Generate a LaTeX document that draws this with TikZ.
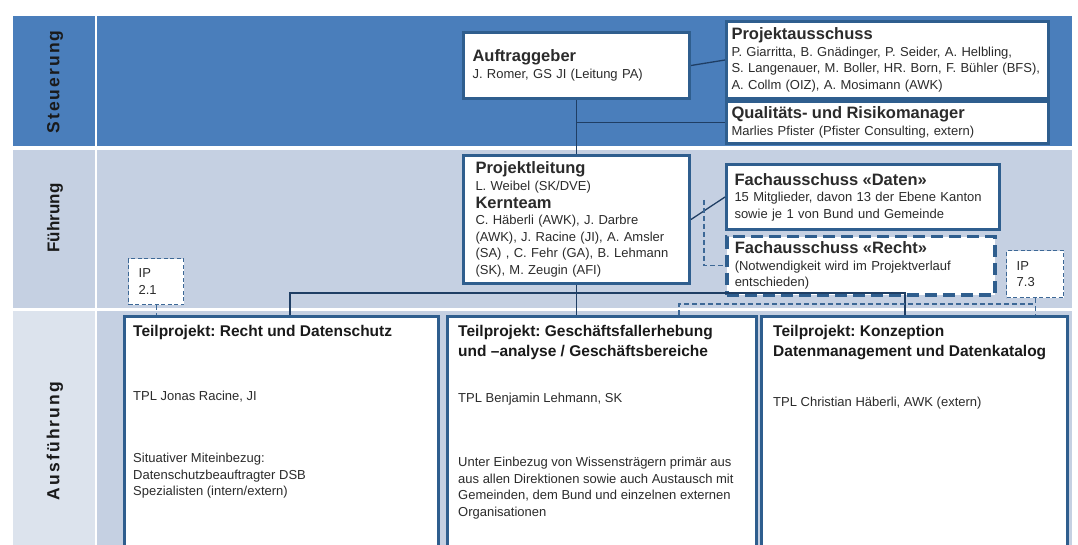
\documentclass[tikz,border=0pt]{standalone}
\usepackage{fontspec}
\setmainfont{Liberation Sans}
\newfontfamily\spacedfont[LetterSpace=12]{Liberation Sans}
\usetikzlibrary{positioning}
\definecolor{steerblue}{HTML}{4A7EBB}
\definecolor{leadgrey}{HTML}{C5D0E2}
\definecolor{execgrey}{HTML}{DCE3ED}
\definecolor{framblue}{HTML}{2F5E8E}
\definecolor{wireblue}{HTML}{1F3E64}
\definecolor{dashblue}{HTML}{3D6896}
\definecolor{inkdark}{HTML}{1A1A1A}
\definecolor{inkbody}{HTML}{2B2B2B}
\newcommand{\hdfont}{\fontsize{16.5}{19}\selectfont\bfseries}
\newcommand{\tpfont}{\fontsize{15.5}{20}\selectfont\bfseries}
\newcommand{\txfont}{\fontsize{13}{16.5}\selectfont}
\frenchspacing
\tikzset{
  org/.style     = {draw=framblue, line width=3pt, fill=white, anchor=north west,
                    align=left, inner xsep=9pt, inner ysep=0pt, font=\txfont,
                    text=inkbody},
  orgopt/.style  = {org, line width=3.5pt, dash pattern=on 12pt off 6pt},
  ipbox/.style   = {draw=dashblue, line width=1.3pt, dash pattern=on 4pt off 2.5pt,
                    fill=white, anchor=north west, align=left, inner xsep=10pt,
                    inner ysep=0pt, font=\txfont, text=inkbody},
  tpframe/.style = {draw=framblue, line width=3pt, fill=white, anchor=north west,
                    inner sep=0pt},
  tptext/.style  = {anchor=north west, align=left, inner sep=0pt, font=\txfont,
                    text=inkbody},
  tphead/.style  = {tptext, font=\tpfont, text=inkdark},
  lane/.style    = {rotate=90, font=\fontsize{17}{20}\selectfont\bfseries,
                    text=inkdark},
  lanewide/.style= {lane, font=\fontsize{17.5}{20}\selectfont\spacedfont\bfseries},
  wire/.style    = {draw=wireblue, line width=1.3pt},
  opt/.style     = {draw=dashblue, line width=1.2pt, dash pattern=on 5pt off 3pt},
}

\begin{document}
\begin{tikzpicture}[x=1pt,y=-1pt]
\clip (0,0) rectangle (1078,545);
\fill[white] (0,0) rectangle (1078,545);

% lanes
\fill[steerblue] (13,16) rectangle (95,146);
\fill[steerblue] (97,16) rectangle (1072,146);
\fill[leadgrey] (13,150) rectangle (95,308);
\fill[leadgrey] (97,150) rectangle (1072,308);
\fill[execgrey] (13,311) rectangle (95,545);
\fill[leadgrey] (97,311) rectangle (1072,545);

\node[lanewide] (steuerung) at (55,82) {Steuerung};
\node[lane] (fuehrung) at (55,218) {Führung};
\node[lanewide] (ausfuehrung) at (55,441) {Ausführung};

\node[org, text width=208pt, minimum height=66pt] (aufg) at (462,31)
     {{\hdfont Auftraggeber}\\J. Romer, GS JI (Leitung PA)};

\node[org, inner xsep=5pt, text width=312pt, minimum height=77pt] (pa) at (725,20)
     {{\hdfont Projektausschuss}\\
      P. Giarritta, B. Gnädinger, P. Seider, A. Helbling,\\
      S. Langenauer, M. Boller, HR. Born, F. Bühler (BFS),\\
      A. Collm (OIZ), A. Mosimann (AWK)};

\node[org, inner xsep=5pt, text width=312pt, minimum height=42pt] (qrm) at (725,100)
     {{\hdfont Qualitäts- und Risikomanager}\\
      Marlies Pfister (Pfister Consulting, extern)};

\node[org, inner xsep=12pt, text width=202pt, minimum height=128pt] (pl) at (462,154)
     {{\hdfont Projektleitung}\\
      L. Weibel (SK/DVE)\\[1.5pt]
      {\hdfont Kernteam}\\
      C. Häberli (AWK), J. Darbre\\
      (AWK), J. Racine (JI), A. Amsler\\
      (SA) , C. Fehr (GA), B. Lehmann\\
      (SK), M. Zeugin (AFI)};

\node[org, inner xsep=8pt, text width=257pt, minimum height=65pt] (fad) at (725,163)
     {{\hdfont Fachausschuss «Daten»}\\
      15 Mitglieder, davon 13 der Ebene Kanton\\
      sowie je 1 von Bund und Gemeinde};

\node[orgopt, inner xsep=8pt, text width=252pt, minimum height=58pt] (far) at (725,235)
     {{\hdfont Fachausschuss «Recht»}\\
      (Notwendigkeit wird im Projektverlauf\\
      entschieden)};

\node[ipbox, text width=35pt, minimum height=46pt] (ip21) at (128,258) {IP\\2.1};
\node[ipbox, text width=37pt, minimum height=47pt] (ip73) at (1006,250) {IP\\7.3};

\node[tpframe, minimum width=314pt, minimum height=260pt] (tp1) at (123,315) {};
\node[tpframe, minimum width=309pt, minimum height=260pt] (tp2) at (446,315) {};
\node[tpframe, minimum width=306pt, minimum height=260pt] (tp3) at (760,315) {};

\node[tphead] (tp1title) at (133,325) {Teilprojekt: Recht und Datenschutz};
\node[tptext] (tp1lead) at (133,391) {TPL Jonas Racine, JI};
\node[tptext] (tp1note) at (133,453)
     {Situativer Miteinbezug:\\Datenschutzbeauftragter DSB\\Spezialisten (intern/extern)};

\node[tphead] (tp2title) at (458,325)
     {Teilprojekt: Geschäftsfallerhebung\\und –analyse / Geschäftsbereiche};
\node[tptext] (tp2lead) at (458,393) {TPL Benjamin Lehmann, SK};
\node[tptext] (tp2note) at (458,457)
     {Unter Einbezug von Wissensträgern primär aus\\
      aus allen Direktionen sowie auch Austausch mit\\
      Gemeinden, dem Bund und einzelnen externen\\
      Organisationen};

\node[tphead] (tp3title) at (773,325)
     {Teilprojekt: Konzeption\\Datenmanagement und Datenkatalog};
\node[tptext] (tp3lead) at (773,397) {TPL Christian Häberli, AWK (extern)};

\coordinate (rtop) at (704,200);
\coordinate (busL) at (290,293);
\coordinate (busR) at (905,293);
\coordinate (ipbus) at (679,304);

\draw[wire] (aufg.east) -- (pa.west);
\draw[wire] (aufg.south) -- (pl.north);
\draw[wire] (aufg.south |- qrm.west) -- (qrm.west);
\draw[wire] (pl.east) -- (fad.west);
\draw[opt] (rtop) |- (far.west);
\draw[wire] (pl.south) -- (pl.south |- tp2.north);
\draw[wire] (busL |- tp1.north) -- (busL) -- (busR) -- (busR |- tp3.north);
\draw[opt] (ip21.south) -- (ip21.south |- tp1.north);
\draw[opt] (ipbus |- tp2.north) -- (ipbus) -- (ipbus -| ip73.south);
\draw[opt] (ip73.south) -- (ip73.south |- tp3.north);
\end{tikzpicture}
\end{document}
